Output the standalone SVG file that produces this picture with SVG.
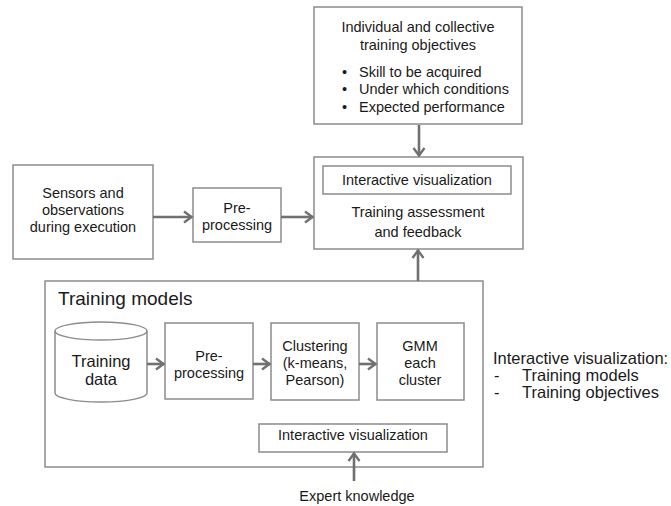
<svg xmlns="http://www.w3.org/2000/svg" width="671" height="506" viewBox="0 0 671 506">
  <style>
    .box { fill: #ffffff; stroke: #8c8c8c; stroke-width: 1.5; }
    .t { font-family: "Liberation Sans", Arial, sans-serif; font-size: 14.5px; fill: #1a1a1a; }
    .c { text-anchor: middle; }
    .big { font-size: 16.5px; }
    .title { font-size: 19px; }
    .conn { stroke: #707070; stroke-width: 2.6; fill: none; marker-end: url(#arrow); }
  </style>
  <defs>
    <marker id="arrow" markerUnits="userSpaceOnUse" markerWidth="14" markerHeight="16" refX="10" refY="7" orient="auto">
      <path d="M2,1.5 L9.5,7 L2,12.5" fill="none" stroke="#707070" stroke-width="2.4" stroke-linejoin="miter"/>
    </marker>
  </defs>
  <rect width="671" height="506" fill="#ffffff"/>

  <!-- training objectives -->
  <g id="objectives">
    <rect class="box" x="314" y="7" width="208" height="117"/>
    <text class="t c" x="418" y="32">Individual and collective</text>
    <text class="t c" x="418" y="50">training objectives</text>
    <text class="t" x="342" y="77">•</text>
    <text class="t" x="359" y="77">Skill to be acquired</text>
    <text class="t" x="342" y="94">•</text>
    <text class="t" x="359" y="94">Under which conditions</text>
    <text class="t" x="342" y="112">•</text>
    <text class="t" x="359" y="112">Expected performance</text>
  </g>

  <!-- assessment and feedback -->
  <g id="assessment">
    <rect class="box" x="314" y="157" width="209" height="92"/>
    <rect class="box" x="323" y="166" width="188" height="28"/>
    <text class="t c" x="417" y="185">Interactive visualization</text>
    <text class="t c" x="418" y="217">Training assessment</text>
    <text class="t c" x="418" y="237">and feedback</text>
  </g>

  <!-- sensors -->
  <g id="sensors">
    <rect class="box" x="13" y="165" width="140" height="94"/>
    <text class="t c" x="83" y="198">Sensors and</text>
    <text class="t c" x="83" y="215">observations</text>
    <text class="t c" x="83" y="232">during execution</text>
  </g>

  <!-- pre-processing (live data) -->
  <g id="preprocessing-live">
    <rect class="box" x="193" y="188" width="88" height="54"/>
    <text class="t c" x="237" y="213">Pre-</text>
    <text class="t c" x="237" y="230">processing</text>
  </g>

  <!-- training models container -->
  <g id="training-models">
    <rect class="box" x="45" y="281" width="438" height="186"/>
    <text class="t title" x="58" y="305">Training models</text>
  </g>

  <g id="training-data">
    <path class="box" d="M55,331 A46,9 0 0,1 147,331 L147,393 A46,9 0 0,1 55,393 Z"/>
    <path d="M55,331 A46,9 0 0,0 147,331" fill="none" stroke="#8c8c8c" stroke-width="1.5"/>
    <text class="t c big" x="101" y="367">Training</text>
    <text class="t c big" x="101" y="385">data</text>
  </g>

  <g id="preprocessing-model">
    <rect class="box" x="165" y="323" width="88" height="76"/>
    <text class="t c" x="209" y="361">Pre-</text>
    <text class="t c" x="209" y="378">processing</text>
  </g>

  <g id="clustering">
    <rect class="box" x="271" y="323" width="88" height="77"/>
    <text class="t c" x="315" y="351">Clustering</text>
    <text class="t c" x="315" y="368">(k-means,</text>
    <text class="t c" x="315" y="385">Pearson)</text>
  </g>

  <g id="gmm">
    <rect class="box" x="377" y="323" width="87" height="77"/>
    <text class="t c" x="420" y="351">GMM</text>
    <text class="t c" x="420" y="368">each</text>
    <text class="t c" x="420" y="385">cluster</text>
  </g>

  <g id="model-visualization">
    <rect class="box" x="259" y="424" width="188" height="28"/>
    <text class="t c" x="353" y="440">Interactive visualization</text>
  </g>

  <g id="expert">
    <text class="t c" x="357" y="501">Expert knowledge</text>
  </g>

  <g id="note">
    <text class="t big" x="493" y="364">Interactive visualization:</text>
    <text class="t big" x="494" y="381">-</text>
    <text class="t big" x="522" y="381">Training models</text>
    <text class="t big" x="494" y="398">-</text>
    <text class="t big" x="522" y="398">Training objectives</text>
  </g>

  <!-- connectors -->
  <g id="connectors">
    <line class="conn" x1="419" y1="125" x2="419" y2="156"/>
    <line class="conn" x1="153" y1="217" x2="192" y2="217"/>
    <line class="conn" x1="281" y1="217" x2="313" y2="217"/>
    <line class="conn" x1="418" y1="281" x2="418" y2="250"/>
    <line class="conn" x1="147" y1="364" x2="164" y2="364"/>
    <line class="conn" x1="253" y1="364" x2="270" y2="364"/>
    <line class="conn" x1="359" y1="364" x2="376" y2="364"/>
    <line class="conn" x1="354" y1="481" x2="354" y2="453"/>
  </g>
</svg>
